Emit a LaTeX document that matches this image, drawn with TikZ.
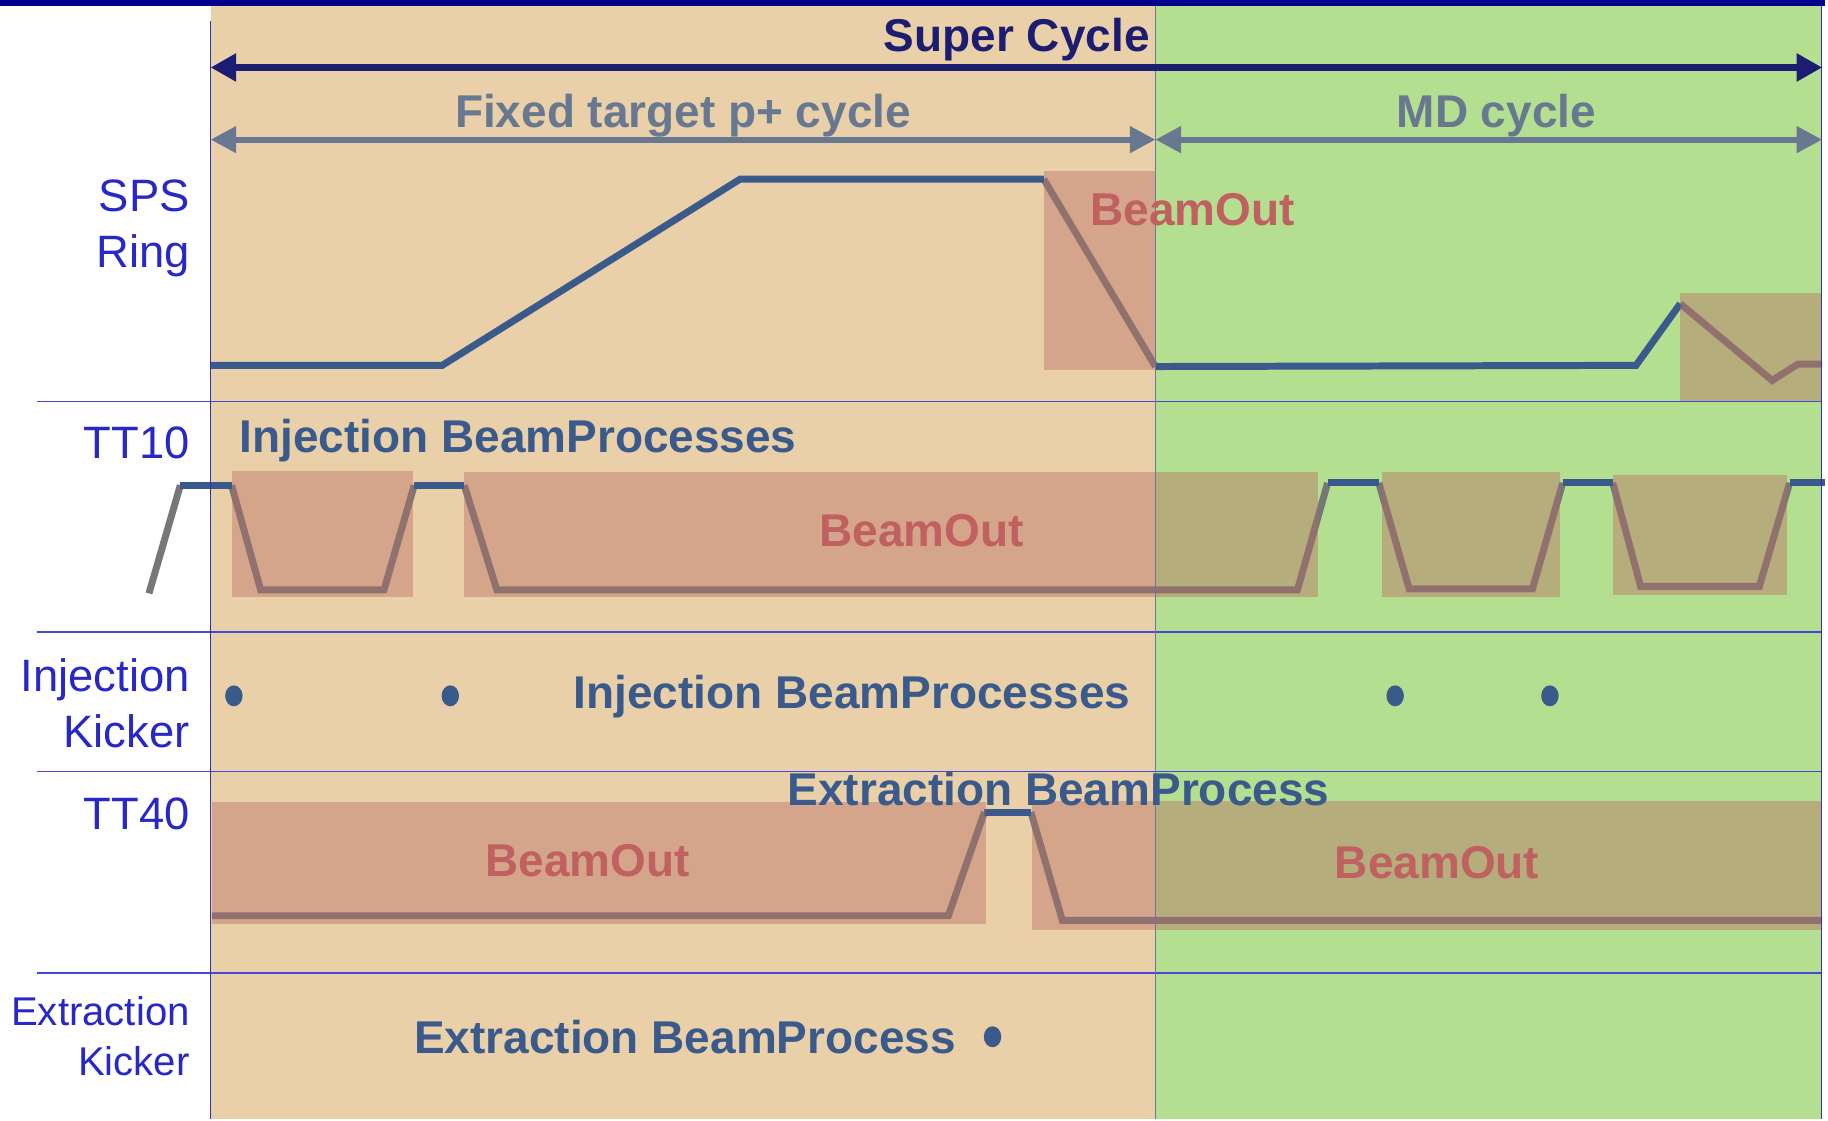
\documentclass[tikz,border=0pt]{standalone}
\usepackage{fontspec}
\setmainfont{Liberation Sans}
\usetikzlibrary{arrows.meta,shapes.geometric}

\definecolor{topbar}{RGB}{0,0,140}
\definecolor{tanbg}{RGB}{233,208,168}
\definecolor{greenbg}{RGB}{181,223,144}
\definecolor{gridblue}{RGB}{72,72,216}
\definecolor{axisblue}{RGB}{50,50,170}
\definecolor{midline}{RGB}{110,118,165}
\definecolor{labelblue}{RGB}{40,40,200}
\definecolor{sigblue}{RGB}{58,90,140}
\definecolor{siggray}{RGB}{119,119,119}
\definecolor{shade}{RGB}{183,106,97}
\definecolor{navy}{RGB}{28,28,112}
\definecolor{slate}{RGB}{104,120,144}
\definecolor{outred}{RGB}{192,96,96}

\begin{document}
\begin{tikzpicture}[x=1pt,y=-1pt,
  every node/.style={inner sep=0pt,outer sep=0pt},
  lbl/.style={font=\fontsize{39}{48}\selectfont,text=labelblue,anchor=base east},
  smalllbl/.style={font=\fontsize{34.5}{43}\selectfont,text=labelblue,anchor=base east},
  bp/.style={font=\fontsize{39.5}{48}\selectfont\bfseries,text=sigblue,anchor=base west},
  outtxt/.style={font=\fontsize{39.5}{48}\selectfont\bfseries,text=outred,anchor=base},
  hi/.style={line width=6pt,draw=sigblue,line join=miter},
  lo/.style={line width=6pt,draw=siggray,line join=miter},
  outbox/.style={fill=shade,fill opacity=0.42},
  sep/.style={draw=gridblue,line width=1.6pt},
  span/.style={line width=5.5pt,draw=navy,{Triangle[length=22pt,width=23pt]}-{Triangle[length=22pt,width=23pt]}},
  subspan/.style={line width=5pt,draw=slate,{Triangle[length=22pt,width=22pt]}-{Triangle[length=22pt,width=22pt]}},
  kick/.style={ellipse,fill=sigblue,minimum width=15pt,minimum height=18pt}
]
% canvas and the two cycle backgrounds
\fill[white] (0,0) rectangle (1568,962);
\fill[tanbg] (181,5) rectangle (993,962);
\fill[greenbg] (993,5) rectangle (1566,962);
\fill[topbar] (0,0) rectangle (1568,5.5);

% signal traces: low/transition parts in grey, high plateaus in blue
% SPS ring
\draw[lo] (897,154) -- (993,315);
\draw[lo] (1444,261) -- (1523,327) -- (1545,313) -- (1566,313);
\draw[hi] (181,314) -- (380,314) -- (636,154) -- (897,154);
\draw[hi] (993,315) -- (1406,314) -- (1444,261);
% TT10
\draw[lo] (128,510) -- (155,417);
\draw[lo] (199,417) -- (224,507) -- (330,507) -- (356,417);
\draw[lo] (399,417) -- (427,507) -- (1115,507) -- (1141,415);
\draw[lo] (1185,415) -- (1211,506) -- (1317,506) -- (1343,415);
\draw[lo] (1386,415) -- (1410,504) -- (1512,504) -- (1538,415);
\draw[hi] (155,417) -- (199,417);
\draw[hi] (356,417) -- (399,417);
\draw[hi] (1141,415) -- (1185,415);
\draw[hi] (1343,415) -- (1386,415);
\draw[hi] (1538,415) -- (1568,415);
% TT40
\draw[lo] (182,787) -- (815,787) -- (846,698);
\draw[lo] (886,698) -- (913,791) -- (1566,791);
\draw[hi] (846,698) -- (886,698);

% BeamOut windows
\fill[outbox] (897,147) rectangle (993,318);
\fill[outbox] (1444,252) rectangle (1566,345);
\fill[outbox] (199,405) rectangle (355,513);
\fill[outbox] (399,406) rectangle (1133,513);
\fill[outbox] (1188,406) rectangle (1341,513);
\fill[outbox] (1386,408) rectangle (1536,511);
\fill[outbox] (182,689) rectangle (847,794);
\fill[outbox] (887,688) rectangle (1566,799);

% row separators and time axis boundaries
\foreach \yy in {345,543,663,836}
  \draw[sep] (32,\yy) -- (1565,\yy);
\draw[axisblue,line width=1.4pt] (181,18) -- (181,962);
\draw[midline,line width=1.2pt] (993,5) -- (993,962);
\draw[axisblue,line width=1.2pt] (1565.5,5) -- (1565.5,962);

% cycle spans
\coordinate (scL) at (181,58);
\coordinate (scR) at (1566,58);
\coordinate (ftL) at (181,120);
\coordinate (ftR) at (993,120);
\coordinate (mdL) at (993,120);
\coordinate (mdR) at (1566,120);
\draw[span] (scL) -- (scR);
\draw[subspan] (ftL) -- (ftR);
\draw[subspan] (mdL) -- (mdR);
\node[font=\fontsize{39.5}{48}\selectfont\bfseries,text=navy,anchor=base east] (super) at (988,44) {Super Cycle};
\node[font=\fontsize{39.5}{48}\selectfont\bfseries,text=slate,anchor=base] (fixed) at (587,110) {Fixed target p+ cycle};
\node[font=\fontsize{39.5}{48}\selectfont\bfseries,text=slate,anchor=base] (md) at (1286,110) {MD cycle};

% row labels
\node[lbl] (sps) at (163,182) {SPS};
\node[lbl] (ring) at (163,230) {Ring};
\node[lbl] (tt10) at (163,394) {TT10};
\node[lbl] (injk1) at (163,594) {Injection};
\node[lbl] (injk2) at (163,642) {Kicker};
\node[lbl] (tt40) at (163,713) {TT40};
\node[smalllbl] (extk1) at (163,881) {Extraction};
\node[smalllbl] (extk2) at (163,924) {Kicker};

% beam process annotations
\node[bp] (tt10bp) at (206,389) {Injection BeamProcesses};
\node[bp] (injbp) at (493,609) {Injection BeamProcesses};
\node[bp] (tt40bp) at (677,692) {Extraction BeamProcess};
\node[bp] (extbp) at (356,905) {Extraction BeamProcess};

\node[outtxt] (out1) at (1025,194) {BeamOut};
\node[outtxt] (out2) at (792,470) {BeamOut};
\node[outtxt] (out3) at (505,753) {BeamOut};
\node[outtxt] (out4) at (1235,755) {BeamOut};

% kicker firings
\node[kick] (ik1) at (201,598) {};
\node[kick] (ik2) at (387,598) {};
\node[kick] (ik3) at (1199,598) {};
\node[kick] (ik4) at (1332,598) {};
\node[kick] (ek1) at (853,891) {};
\end{tikzpicture}
\end{document}
